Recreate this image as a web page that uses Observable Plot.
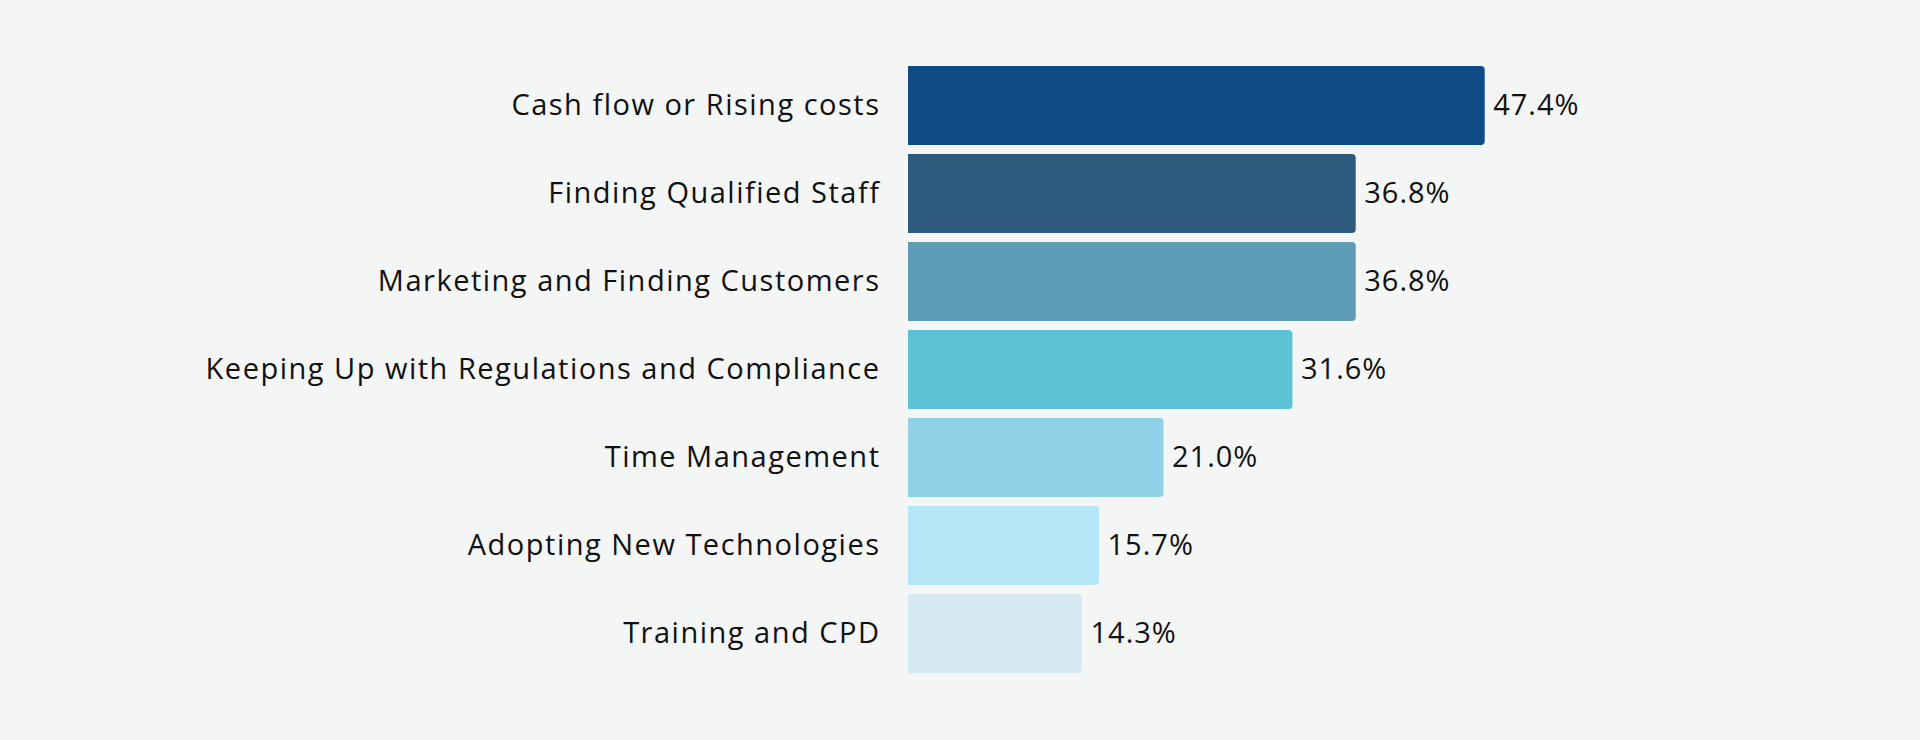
<!DOCTYPE html>
<html>
<head>
<meta charset="utf-8">
<script src="https://cdn.jsdelivr.net/npm/d3@7"></script>
<script src="https://cdn.jsdelivr.net/npm/@observablehq/plot@0.6"></script>
<style>
  html, body { margin: 0; padding: 0; background: #f4f5f5; }
  #chart { width: 1920px; height: 740px; }
  #chart svg g[aria-label="y-axis tick label"] text { letter-spacing: 1.5px; }
  #chart svg g[aria-label="text"] text { letter-spacing: 1px; }
</style>
</head>
<body>
<div id="chart"></div>
<script>
const categories = [
  "Cash flow or Rising costs",
  "Finding Qualified Staff",
  "Marketing and Finding Customers",
  "Keeping Up with Regulations and Compliance",
  "Time Management",
  "Adopting New Technologies",
  "Training and CPD"
];
const values = [47.4, 36.8, 36.8, 31.6, 21.0, 15.7, 14.3];
const colors = ["#114b87", "#2e5b7d", "#5f9db7", "#5cc2d6", "#91d1e8", "#b4e6f8", "#d5e9f2"];

const data = categories.map((c, i) => ({category: c, value: values[i], color: colors[i]}));

const chart = Plot.plot({
  width: 1920,
  height: 740,
  marginLeft: 908,
  marginRight: 282,
  marginTop: 60.7,
  marginBottom: 61.9,
  style: {background: "#f4f5f5", color: "#111111", fontFamily: "'Open Sans', 'Noto Sans', sans-serif", fontSize: "29px"},
  x: {domain: [0, 60], axis: null},
  y: {domain: categories, paddingInner: 0.104, paddingOuter: 0.052, label: null},
  marks: [
    Plot.barX(data, {x: "value", y: "category", fill: "color", rx2: 4}),
    Plot.axisY({tickSize: 0, tickPadding: 28, fontSize: 29, label: null}),
    Plot.text(data, {x: "value", y: "category", text: d => d.value.toFixed(1) + "%", textAnchor: "start", dx: 8, fontSize: 29, fill: "#111111"})
  ]
});
document.getElementById("chart").appendChild(chart);
</script>
</body>
</html>
